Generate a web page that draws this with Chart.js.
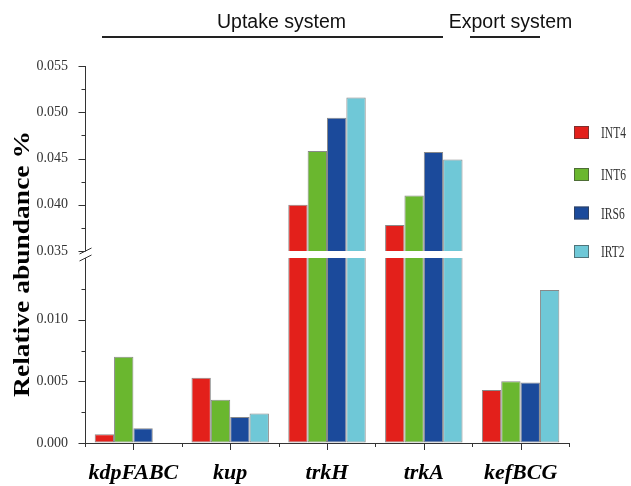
<!DOCTYPE html>
<html>
<head>
<meta charset="utf-8">
<script src="https://cdn.jsdelivr.net/npm/chart.js@4.4.1/dist/chart.umd.min.js"></script>
<style>
  html, body { margin: 0; padding: 0; background: #fff; }
  #wrap { width: 631px; height: 486px; position: relative; }
</style>
</head>
<body>
<div id="wrap"><canvas id="c"></canvas></div>
<script>
// Gene categories and relative abundance (%) per sample
const genes = ['kdpFABC', 'kup', 'trkH', 'trkA', 'kefBCG'];
const INT4 = [0.0007, 0.0053, 0.0400, 0.0378, 0.0043];
const INT6 = [0.0070, 0.0035, 0.0458, 0.0410, 0.0050];
const IRS6 = [0.0012, 0.0021, 0.0494, 0.0457, 0.0049];
const IRT2 = [0.0000, 0.0024, 0.0516, 0.0449, 0.0124];
const sampleNames = ['INT4', 'INT6', 'IRS6', 'IRT2'];
const sampleColors = ['#E3201B', '#6AB72F', '#1B4A9B', '#6FC8D7'];

// Broken value axis: lower segment, hidden gap, upper segment
const LOW_MAX = 0.015;
const HIGH_MIN = 0.035;
const AXIS_MAX = 0.055;
const majorTicks = [0, 0.005, 0.010, 0.035, 0.040, 0.045, 0.050, 0.055];
const minorTicks = [0.0025, 0.0075, 0.0125, 0.0375, 0.0425, 0.0475, 0.0525];

// Fractions of the plot height given to each segment
const FRAC_LOW = 185 / 377;
const FRAC_GAP = 7 / 377;
const FRAC_HIGH = 185 / 377;

class BrokenLinearScale extends Chart.LinearScale {
  buildTicks() {
    return majorTicks.map(v => ({ value: v }));
  }
  valueToDecimal(v) {
    if (v <= LOW_MAX) return (v / LOW_MAX) * FRAC_LOW;
    if (v >= HIGH_MIN) return FRAC_LOW + FRAC_GAP + ((v - HIGH_MIN) / (AXIS_MAX - HIGH_MIN)) * FRAC_HIGH;
    return FRAC_LOW + ((v - LOW_MAX) / (HIGH_MIN - LOW_MAX)) * FRAC_GAP;
  }
  getPixelForValue(v) {
    if (v === null || v === undefined || isNaN(v)) return NaN;
    return this.getPixelForDecimal(this.valueToDecimal(v));
  }
  getValueForPixel(p) {
    const d = this.getDecimalForPixel(p);
    if (d <= FRAC_LOW) return d / FRAC_LOW * LOW_MAX;
    if (d >= FRAC_LOW + FRAC_GAP) return HIGH_MIN + (d - FRAC_LOW - FRAC_GAP) / FRAC_HIGH * (AXIS_MAX - HIGH_MIN);
    return LOW_MAX + (d - FRAC_LOW) / FRAC_GAP * (HIGH_MIN - LOW_MAX);
  }
}
BrokenLinearScale.id = 'brokenLinear';
BrokenLinearScale.defaults = Chart.LinearScale.defaults;
Chart.register(BrokenLinearScale);

function line(ctx, x1, y1, x2, y2) {
  ctx.beginPath();
  ctx.moveTo(x1, y1);
  ctx.lineTo(x2, y2);
  ctx.stroke();
}

// Axis lines, tick marks, the axis break, group headers, legend and y title
const decor = {
  id: 'decor',
  afterDatasetsDraw(chart) {
    const { ctx, chartArea: a, scales: { x, y } } = chart;
    const yHighBot = y.getPixelForValue(HIGH_MIN);
    const yLowTop = y.getPixelForValue(LOW_MAX);
    ctx.save();

    // white band across the bars at the break
    ctx.fillStyle = '#fff';
    ctx.fillRect(a.left + 1, yHighBot, a.right - a.left + 2, yLowTop - yHighBot);

    ctx.strokeStyle = '#333';
    ctx.lineWidth = 1;
    const ax = Math.round(a.left) + 0.5;
    const ay = Math.round(a.bottom) + 0.5;

    // y axis in two segments
    line(ctx, ax, a.top, ax, yHighBot);
    line(ctx, ax, yLowTop, ax, a.bottom);
    // x axis
    line(ctx, a.left, ay, a.right, ay);

    // y ticks
    majorTicks.forEach(v => {
      const py = Math.round(y.getPixelForValue(v)) + 0.5;
      line(ctx, ax - 7, py, ax, py);
    });
    minorTicks.forEach(v => {
      const py = Math.round(y.getPixelForValue(v)) + 0.5;
      line(ctx, ax - 4, py, ax, py);
    });

    // x ticks: long at category centres, short at boundaries
    const step = (a.right - a.left) / genes.length;
    genes.forEach((g, i) => {
      const px = Math.round(x.getPixelForValue(i)) + 0.5;
      line(ctx, px, a.bottom, px, a.bottom + 7);
    });
    for (let i = 0; i <= genes.length; i++) {
      const px = Math.round(a.left + i * step) + 0.5;
      line(ctx, px, a.bottom, px, a.bottom + 4);
    }

    // break marks on the y axis
    [yHighBot, yLowTop].forEach(yy => line(ctx, ax - 6, yy + 3, ax + 6, yy - 3));

    // group headers
    ctx.fillStyle = '#111';
    ctx.font = '19.5px "Liberation Sans", Arial, sans-serif';
    ctx.textAlign = 'center';
    ctx.textBaseline = 'alphabetic';
    ctx.fillText('Uptake system', 281.5, 27.5);
    ctx.fillText('Export system', 510.5, 27.5);
    ctx.strokeStyle = '#222';
    ctx.lineWidth = 2;
    line(ctx, 102, 37, 443, 37);
    line(ctx, 470, 37, 540, 37);

    // legend (narrow serif labels)
    const legendY = [132.5, 174.5, 213, 251.5];
    ctx.lineWidth = 1;
    sampleNames.forEach((n, i) => {
      const cy = legendY[i];
      ctx.fillStyle = sampleColors[i];
      ctx.fillRect(574, cy - 6.5, 15, 13);
      ctx.strokeStyle = 'rgba(60,60,60,0.6)';
      ctx.strokeRect(574.5, cy - 6, 14, 12);
      ctx.save();
      ctx.translate(601, cy + 5.5);
      ctx.scale(0.72, 1);
      ctx.fillStyle = '#333';
      ctx.font = '16px "Liberation Serif", "Times New Roman", serif';
      ctx.textAlign = 'left';
      ctx.textBaseline = 'alphabetic';
      ctx.fillText(n, 0, 0);
      ctx.restore();
    });

    // y axis title
    ctx.translate(29, 264);
    ctx.rotate(-Math.PI / 2);
    ctx.scale(1, 0.85);
    ctx.fillStyle = '#000';
    ctx.font = 'bold 27.5px "Liberation Serif", "Times New Roman", serif';
    ctx.textAlign = 'center';
    ctx.textBaseline = 'alphabetic';
    ctx.fillText('Relative abundance %', 0, 0);

    ctx.restore();
  }
};

const datasets = [INT4, INT6, IRS6, IRT2].map((vals, i) => ({
  label: sampleNames[i],
  data: vals,
  backgroundColor: sampleColors[i],
  borderColor: 'rgba(40,40,40,0.55)',
  borderWidth: 1,
  borderSkipped: false,
  categoryPercentage: 0.8,
  barPercentage: 1.0
}));

new Chart(document.getElementById('c'), {
  type: 'bar',
  data: { labels: genes, datasets },
  options: {
    responsive: true,
    maintainAspectRatio: false,
    animation: false,
    layout: { padding: { top: 66, right: 62, left: 0, bottom: 0 } },
    plugins: { legend: { display: false }, tooltip: { enabled: false } },
    scales: {
      x: {
        type: 'category',
        offset: true,
        grid: { display: true, drawOnChartArea: false, drawTicks: true, tickLength: 4, tickColor: 'rgba(0,0,0,0)', offset: true },
        border: { display: false },
        ticks: {
          color: '#000',
          padding: 13,
          maxRotation: 0,
          autoSkip: false,
          font: { family: '"Liberation Serif", "Times New Roman", serif', size: 22, weight: 'bold', style: 'italic' }
        },
        afterFit(scale) { scale.height = 43; }
      },
      y: {
        type: 'brokenLinear',
        min: 0,
        max: AXIS_MAX,
        grid: { display: true, drawOnChartArea: false, drawTicks: true, tickLength: 7, tickColor: 'rgba(0,0,0,0)' },
        border: { display: false },
        ticks: {
          color: '#333',
          padding: 10,
          autoSkip: false,
          font: { family: '"Liberation Serif", "Times New Roman", serif', size: 14 },
          callback: v => v.toFixed(3)
        },
        afterFit(scale) { scale.width = 85; }
      }
    }
  },
  plugins: [decor]
});
</script>
</body>
</html>
